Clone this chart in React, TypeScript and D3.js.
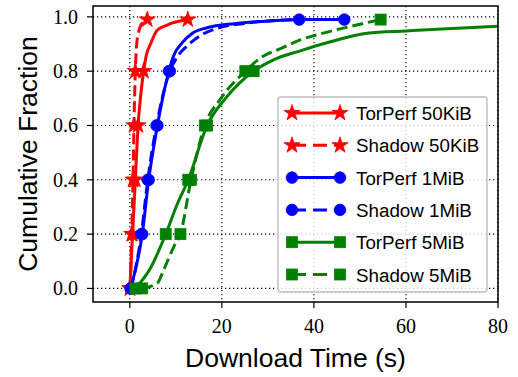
import * as d3 from 'd3';
import React from 'react';

const WIDTH = 518;
const HEIGHT = 377;

// download time (s) / cumulative fraction
const torperf50Time = [0, 0.6, 1.2, 1.8, 2.3, 3.0, 3.6, 4.5, 5.9, 8.1, 12.6];
const torperf50Frac = [0, 0.2, 0.4, 0.6, 0.7, 0.8, 0.86, 0.9, 0.95, 0.97, 0.99];
const torperf50Marks = [0, 1, 2, 3, 5, 10];

const shadow50Time = [0.1, 0.4, 0.7, 0.9, 1.2, 1.5, 2.0, 2.6, 3.8];
const shadow50Frac = [0, 0.2, 0.4, 0.6, 0.8, 0.9, 0.95, 0.975, 0.99];
const shadow50Marks = [0, 1, 2, 3, 4, 8];

const torperf1Time = [0.15, 2.7, 4.1, 6.0, 8.5, 9.6, 11.4, 13.6, 16.8, 22.6, 28.4, 36.8, 46.6];
const torperf1Frac = [0, 0.2, 0.4, 0.6, 0.8, 0.86, 0.905, 0.94, 0.96, 0.975, 0.983, 0.99, 0.99];
const torperf1Marks = [0, 1, 2, 3, 4, 12];

const shadow1Time = [0.3, 2.5, 3.9, 5.8, 8.7, 10.2, 12.6, 15.2, 18.5, 24.5, 36.8];
const shadow1Frac = [0, 0.2, 0.4, 0.6, 0.8, 0.85, 0.895, 0.93, 0.955, 0.975, 0.99];
const shadow1Marks = [0, 1, 2, 3, 4, 10];

const torperf5Time = [1.2, 4.5, 7.8, 10.3, 12.7, 16.8, 20.8, 26.9, 31.0, 37.0, 44.0, 51.6, 60, 70, 80, 90];
const torperf5Frac = [0, 0.075, 0.2, 0.31, 0.4, 0.6, 0.7, 0.8, 0.84, 0.875, 0.91, 0.94, 0.948, 0.957, 0.965, 0.972];
const torperf5Marks = [0, 2, 4, 5, 7];

const shadow5Time = [2.7, 6.0, 7.4, 9.6, 11.0, 13.3, 16.3, 19.8, 25.1, 28.5, 33.0, 37.0, 42.0, 48.0, 54.5];
const shadow5Frac = [0, 0.02, 0.07, 0.155, 0.2, 0.4, 0.6, 0.7, 0.8, 0.85, 0.885, 0.915, 0.94, 0.965, 0.99];
const shadow5Marks = [0, 4, 5, 6, 8, 14];

const xTicks = [0, 20, 40, 60, 80];
const yTicks = [0, 0.2, 0.4, 0.6, 0.8, 1.0];

const series = [
  { name: 'TorPerf 50KiB', time: torperf50Time, frac: torperf50Frac, marks: torperf50Marks, color: '#ff0000', dashed: false, marker: 'star' },
  { name: 'Shadow 50KiB', time: shadow50Time, frac: shadow50Frac, marks: shadow50Marks, color: '#ff0000', dashed: true, marker: 'star' },
  { name: 'TorPerf 1MiB', time: torperf1Time, frac: torperf1Frac, marks: torperf1Marks, color: '#0000ff', dashed: false, marker: 'circle' },
  { name: 'Shadow 1MiB', time: shadow1Time, frac: shadow1Frac, marks: shadow1Marks, color: '#0000ff', dashed: true, marker: 'circle' },
  { name: 'TorPerf 5MiB', time: torperf5Time, frac: torperf5Frac, marks: torperf5Marks, color: '#008000', dashed: false, marker: 'square' },
  { name: 'Shadow 5MiB', time: shadow5Time, frac: shadow5Frac, marks: shadow5Marks, color: '#008000', dashed: true, marker: 'square' },
];

const margin = { top: 6, right: 20, bottom: 75, left: 93 };

function starPath(r: number) {
  const pts: string[] = [];
  for (let i = 0; i < 10; i++) {
    const rad = i % 2 === 0 ? r : r * 0.382;
    const a = -Math.PI / 2 + (i * Math.PI) / 5;
    pts.push(`${(rad * Math.cos(a)).toFixed(2)},${(rad * Math.sin(a)).toFixed(2)}`);
  }
  return 'M' + pts.join('L') + 'Z';
}

function Marker({ kind, x, y, color }: { kind: string; x: number; y: number; color: string }) {
  if (kind === 'star') {
    return <path d={starPath(8.5)} transform={`translate(${x},${y})`} fill={color} stroke={color} strokeWidth={0.8} />;
  }
  if (kind === 'circle') {
    return <circle cx={x} cy={y} r={5.8} fill={color} stroke={color} strokeWidth={0.8} />;
  }
  return <rect x={x - 5.5} y={y - 5.5} width={11} height={11} fill={color} stroke={color} strokeWidth={0.8} />;
}

export default function App() {
  const x = d3.scaleLinear().domain([-8, 80]).range([margin.left, WIDTH - margin.right]);
  const y = d3.scaleLinear().domain([-0.05, 1.04]).range([HEIGHT - margin.bottom, margin.top]);

  const line = d3.line<[number, number]>()
    .x(d => x(d[0]))
    .y(d => y(d[1]))
    .curve(d3.curveMonotoneX);

  const x0 = margin.left, x1 = WIDTH - margin.right;
  const y0 = margin.top, y1 = HEIGHT - margin.bottom;
  const dash = '11,5';
  const serif = "'Liberation Serif', 'Times New Roman', serif";
  const sans = "'Liberation Sans', Arial, sans-serif";

  // legend box
  const lg = { x: 278, y: 97, w: 209, h: 195 };

  return (
    <svg width={WIDTH} height={HEIGHT} style={{ position: 'absolute', left: 0, top: 0, background: '#fff' }}>
      <defs>
        <clipPath id="plot-clip">
          <rect x={x0} y={y0} width={x1 - x0} height={y1 - y0} />
        </clipPath>
      </defs>

      {/* grid */}
      <g stroke="#000" strokeWidth={1.1} strokeDasharray="1.2,2.8">
        {xTicks.map(t => <line key={'gx' + t} x1={x(t)} x2={x(t)} y1={y0} y2={y1} />)}
        {yTicks.map(t => <line key={'gy' + t} x1={x0} x2={x1} y1={y(t)} y2={y(t)} />)}
      </g>

      {/* curves */}
      <g clipPath="url(#plot-clip)">
        {series.map(s => {
          const pts = s.time.map((t, i) => [t, s.frac[i]] as [number, number]);
          return (
            <g key={s.name}>
              <path d={line(pts) || ''} fill="none" stroke={s.color} strokeWidth={3}
                strokeDasharray={s.dashed ? dash : undefined} strokeLinejoin="round" />
              {s.marks.map(i => (
                <Marker key={i} kind={s.marker} x={x(pts[i][0])} y={y(pts[i][1])} color={s.color} />
              ))}
            </g>
          );
        })}
      </g>

      {/* frame */}
      <rect x={x0} y={y0} width={x1 - x0} height={y1 - y0} fill="none" stroke="#000" strokeWidth={1.5} />

      {/* x ticks */}
      {xTicks.map(t => (
        <g key={'xt' + t}>
          <line x1={x(t)} x2={x(t)} y1={y1} y2={y1 + 6} stroke="#000" strokeWidth={1.2} />
          <text x={x(t)} y={333} textAnchor="middle" fontFamily={serif} fontSize={20}>{t}</text>
        </g>
      ))}
      {/* y ticks */}
      {yTicks.map(t => (
        <g key={'yt' + t}>
          <line x1={x0 - 6} x2={x0} y1={y(t)} y2={y(t)} stroke="#000" strokeWidth={1.2} />
          <text x={78} y={y(t)} dy="0.34em" textAnchor="end" fontFamily={serif} fontSize={20}>{d3.format('.1f')(t)}</text>
        </g>
      ))}

      {/* axis labels */}
      <text x={(x0 + x1) / 2} y={367} textAnchor="middle" fontFamily={sans} fontSize={26.5}>Download Time (s)</text>
      <text transform={`translate(37,${(y0 + y1) / 2}) rotate(-90)`} textAnchor="middle" fontFamily={sans} fontSize={26.5}>Cumulative Fraction</text>

      {/* legend */}
      <rect x={lg.x} y={lg.y} width={lg.w} height={lg.h} rx={3} fill="#fff" fillOpacity={0.8} stroke="#cccccc" strokeWidth={1.8} />
      {series.map((s, i) => {
        const base = 120 + i * 32.3;
        const my = base - 7;
        return (
          <g key={'lg' + s.name}>
            <line x1={289} x2={343} y1={my} y2={my} stroke={s.color} strokeWidth={3}
              strokeDasharray={s.dashed ? '14,7' : undefined} strokeDashoffset={s.dashed ? -3 : 0} />
            <Marker kind={s.marker} x={292} y={my} color={s.color} />
            <Marker kind={s.marker} x={340} y={my} color={s.color} />
            <text x={356} y={base} fontFamily={sans} fontSize={18.8}>{s.name}</text>
          </g>
        );
      })}
    </svg>
  );
}
